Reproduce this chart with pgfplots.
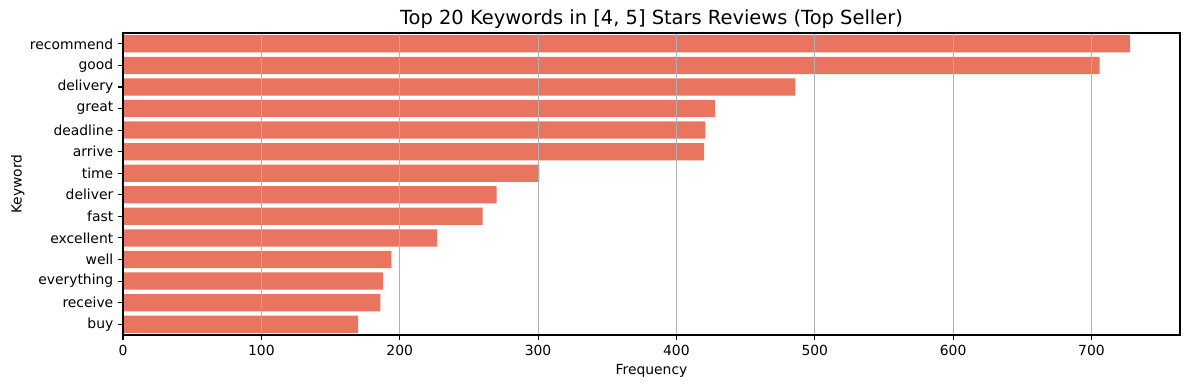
\documentclass[border=0pt]{standalone}
\usepackage{fontspec}
\setmainfont{DejaVu Sans}
\usepackage{pgfplots}
\pgfplotsset{compat=1.18}
\definecolor{barc}{RGB}{233,117,96}
\definecolor{gridc}{RGB}{176,176,176}
\begin{document}
\begin{tikzpicture}
\begin{axis}[
  name=ax,
  scale only axis,
  width=761pt, height=217.4pt,
  xbar, bar width=0.8,
  xmin=0, xmax=764,
  ymin=-0.5, ymax=13.5,
  y dir=reverse,
  ytick={0,...,13},
  yticklabels={recommend,good,delivery,great,deadline,arrive,time,deliver,fast,excellent,well,everything,receive,buy},
  xtick={0,100,...,700},
  xmajorgrids, grid style={gridc, line width=0.8pt},
  tick align=outside, tick pos=left,
  major tick length=3.5pt,
  every tick/.style={black, line width=0.8pt},
  axis line style={line width=0.8pt},
  /pgf/number format/assume math mode=true,
  ticklabel style={font=\fontsize{10}{12}\selectfont},
  xlabel={Frequency}, ylabel={Keyword},
  label style={font=\fontsize{10}{12}\selectfont},
  ylabel style={yshift=-3pt},
  title={Top 20 Keywords in [4, 5] Stars Reviews (Top Seller)},
  title style={font=\fontsize{14}{16}\selectfont, yshift=-6pt},
  axis on top,
]
\addplot[fill=barc, draw=none] coordinates {
(728,0) (706,1) (486,2) (428,3) (421,4) (420,5) (301,6) (270,7) (260,8) (227,9) (194,10) (188,11) (186,12) (170,13)
};
\end{axis}
\pgfresetboundingbox
\useasboundingbox ([xshift=-88.6pt,yshift=-39.6pt]ax.south west) rectangle ([xshift=6.5pt,yshift=23.8pt]ax.north east);
\end{tikzpicture}
\end{document}
